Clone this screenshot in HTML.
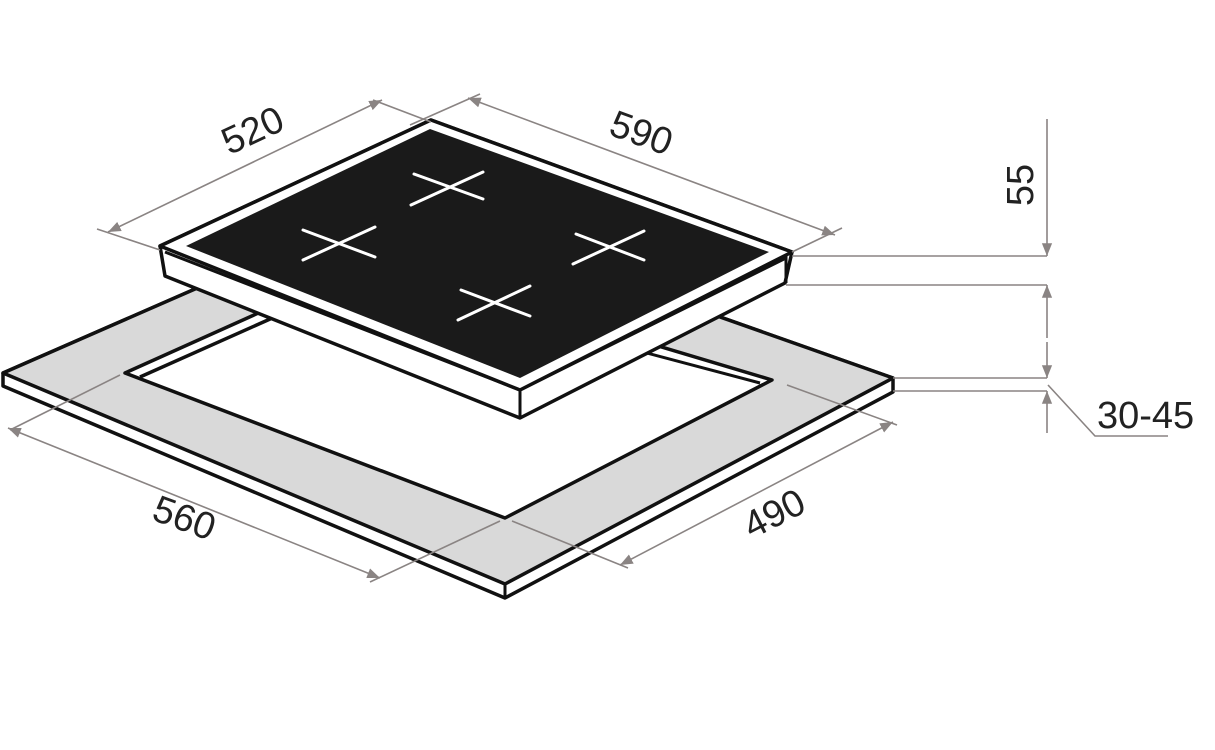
<!DOCTYPE html>
<html><head><meta charset="utf-8"><style>
html,body{margin:0;padding:0;background:#fff;}
svg{display:block;}
text{font-family:"Liberation Sans",sans-serif;fill:#222;}
</style></head><body>
<svg width="1215" height="750" viewBox="0 0 1215 750" xmlns="http://www.w3.org/2000/svg">
<defs>
<marker id="a" viewBox="0 0 10 10" refX="10" refY="5" markerWidth="8" markerHeight="8" orient="auto-start-reverse"><path d="M0,1 L10,5 L0,9 Z" fill="#8a8483"/></marker>
</defs>
<!-- countertop -->
<polygon points="3,373 394,202 893,378 893,392 505,598 3,386" fill="#fff" stroke="#111" stroke-width="3.5" stroke-linejoin="round"/>
<polygon points="3,373 394,202 893,378 505,584" fill="#d9d9d9" stroke="#111" stroke-width="3.5" stroke-linejoin="round"/>
<line x1="505" y1="584" x2="505" y2="598" stroke="#111" stroke-width="3"/>
<!-- cutout -->
<polygon points="125,373 374,261 772,380 505,518" fill="#fff" stroke="#111" stroke-width="3.5" stroke-linejoin="round"/>
<polyline points="140,377 380,270" fill="none" stroke="#111" stroke-width="3.5"/>
<polyline points="560,330 760,383" fill="none" stroke="#111" stroke-width="3"/>
<!-- hob -->
<polygon points="160,246 431,120 792,252 785,283 520,418 165,276" fill="#fff" stroke="#111" stroke-width="3.5" stroke-linejoin="round"/>
<polygon points="160,246 431,120 792,252 520,390" fill="#fff" stroke="#111" stroke-width="3.5" stroke-linejoin="round"/>
<polyline points="165,252 520,390 520,418" fill="none" stroke="#111" stroke-width="3"/>
<polyline points="520,390 786,258 786,283" fill="none" stroke="#111" stroke-width="3"/>
<polygon points="186,246 430,129 769,252 520,378" fill="#1a1a1a"/>
<g stroke="#fff" stroke-width="3" stroke-linecap="round">
<line x1="411" y1="205" x2="483" y2="172"/><line x1="414" y1="174" x2="483" y2="199"/>
<line x1="303" y1="260" x2="375" y2="227"/><line x1="303" y1="230" x2="375" y2="257"/>
<line x1="573" y1="264" x2="644" y2="231"/><line x1="576" y1="234" x2="644" y2="260"/>
<line x1="458" y1="320" x2="530" y2="286"/><line x1="461" y1="290" x2="530" y2="316"/>
</g>
<!-- dimension lines -->
<g stroke="#8a8483" stroke-width="1.6" fill="none">
<line x1="108" y1="232" x2="382" y2="100" marker-start="url(#a)" marker-end="url(#a)"/>
<line x1="97" y1="229" x2="160" y2="250"/><line x1="373" y1="100" x2="431" y2="122"/>
<line x1="468" y1="98" x2="835" y2="235" marker-start="url(#a)" marker-end="url(#a)"/>
<line x1="410" y1="125" x2="480" y2="94"/><line x1="792" y1="252" x2="842" y2="228"/>
<line x1="8" y1="428" x2="380" y2="578" marker-start="url(#a)" marker-end="url(#a)"/>
<line x1="120" y1="375" x2="10" y2="430"/><line x1="500" y1="521" x2="370" y2="582"/>
<line x1="620" y1="565" x2="893" y2="422" marker-start="url(#a)" marker-end="url(#a)"/>
<line x1="512" y1="521" x2="628" y2="568"/><line x1="787" y1="385" x2="897" y2="425"/>
<line x1="792" y1="256" x2="1047" y2="256"/><line x1="786" y1="285" x2="1047" y2="285"/>
<line x1="893" y1="378" x2="1047" y2="378"/><line x1="893" y1="391" x2="1047" y2="391"/>
<line x1="1047" y1="119" x2="1047" y2="256" marker-end="url(#a)"/>
<line x1="1047" y1="338" x2="1047" y2="285" marker-end="url(#a)"/>
<line x1="1047" y1="342" x2="1047" y2="378" marker-end="url(#a)"/>
<line x1="1047" y1="433" x2="1047" y2="391" marker-end="url(#a)"/>
<polyline points="1048,385 1095,436 1168,436"/>
</g>
<!-- labels -->
<text font-size="38" transform="translate(258,142) rotate(-25)" text-anchor="middle">520</text>
<text font-size="38" transform="translate(637,145) rotate(20)" text-anchor="middle">590</text>
<text font-size="38" transform="translate(180,530) rotate(20)" text-anchor="middle">560</text>
<text font-size="38" transform="translate(780,525) rotate(-27)" text-anchor="middle">490</text>
<text font-size="38" transform="translate(1033,185) rotate(-90)" text-anchor="middle">55</text>
<text font-size="38" x="1097" y="428">30-45</text>
</svg>
</body></html>
